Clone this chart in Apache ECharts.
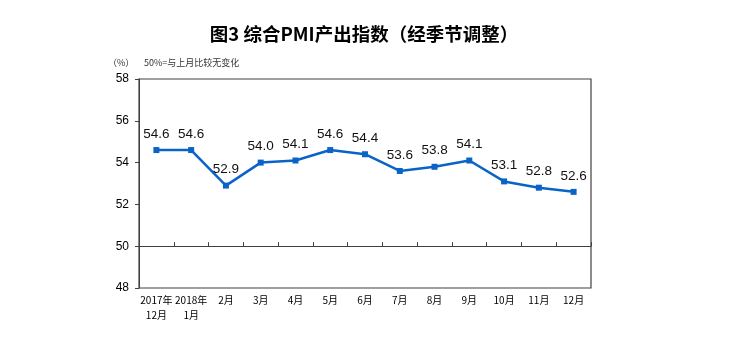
<!DOCTYPE html>
<html><head><meta charset="utf-8">
<script src="https://cdn.jsdelivr.net/npm/echarts@6/dist/echarts.min.js"></script>
<style>html,body{margin:0;padding:0;background:#fff}#c{width:742px;height:349px}</style>
</head><body><div id="c"></div>
<script>
const categories = ['2017年\n12月','2018年\n1月','2月','3月','4月','5月','6月','7月','8月','9月','10月','11月','12月'];
const values = [54.6,54.6,52.9,54.0,54.1,54.6,54.4,53.6,53.8,54.1,53.1,52.8,52.6];
const yTicks = {min:48, max:58, interval:2};
const titleText = '图3 综合PMI产出指数（经季节调整）';
const unitText = '（%）';
const noteText = '50%=与上月比较无变化';

const chart = echarts.init(document.getElementById('c'));
const gridTop = 79, gridBottom = 61, gridH = 349 - gridTop - gridBottom;
const off50 = -(50 - yTicks.min) / (yTicks.max - yTicks.min) * gridH;
chart.setOption({
  animation:false,
  title:{text:titleText,top:20,left:359,textAlign:'center',
    textStyle:{fontSize:18.5,fontWeight:'bold',color:'#000',fontFamily:'"Noto Sans CJK SC", sans-serif'}},
  graphic:[
    {type:'text',left:108,top:58,style:{text:unitText,fontSize:9,fill:'#333',fontFamily:'"Noto Sans CJK SC", sans-serif'}},
    {type:'text',left:144,top:58,style:{text:noteText,fontSize:9,fill:'#333',fontFamily:'"Noto Sans CJK SC", sans-serif'}}
  ],
  grid:{left:139,right:151,top:gridTop,bottom:gridBottom,show:true,borderColor:'#404040',borderWidth:1.2,backgroundColor:'transparent'},
  xAxis:[{
    type:'category',data:categories,boundaryGap:true,position:'bottom',
    axisLine:{show:false},axisTick:{show:false},
    axisLabel:{fontSize:10,color:'#000',lineHeight:15,margin:5,fontFamily:'"Noto Sans CJK SC", sans-serif',interval:0}
  },{
    type:'category',data:categories,boundaryGap:true,position:'bottom',offset:off50,
    axisLine:{show:true,lineStyle:{color:'#404040',width:1}},
    axisTick:{show:true,inside:true,length:4,interval:0,lineStyle:{color:'#404040'}},
    axisLabel:{show:false}
  }],
  yAxis:{type:'value',min:yTicks.min,max:yTicks.max,interval:yTicks.interval,
    axisLine:{show:true,lineStyle:{color:'#404040'}},
    axisTick:{show:true,length:4,lineStyle:{color:'#404040'}},
    splitLine:{show:false},
    axisLabel:{fontSize:12,color:'#000',margin:10,fontFamily:'Arial, "Liberation Sans", sans-serif'}},
  series:[{
    type:'line',data:values,xAxisIndex:0,
    symbol:'rect',symbolSize:6,
    lineStyle:{color:'#0a64c8',width:2.5},
    itemStyle:{color:'#0a64c8'},
    label:{show:true,position:'top',distance:6,fontSize:13.5,color:'#111',
      fontFamily:'Arial, "Liberation Sans", sans-serif',
      formatter:p=>p.value.toFixed(1)}
  }]
});
</script></body></html>
